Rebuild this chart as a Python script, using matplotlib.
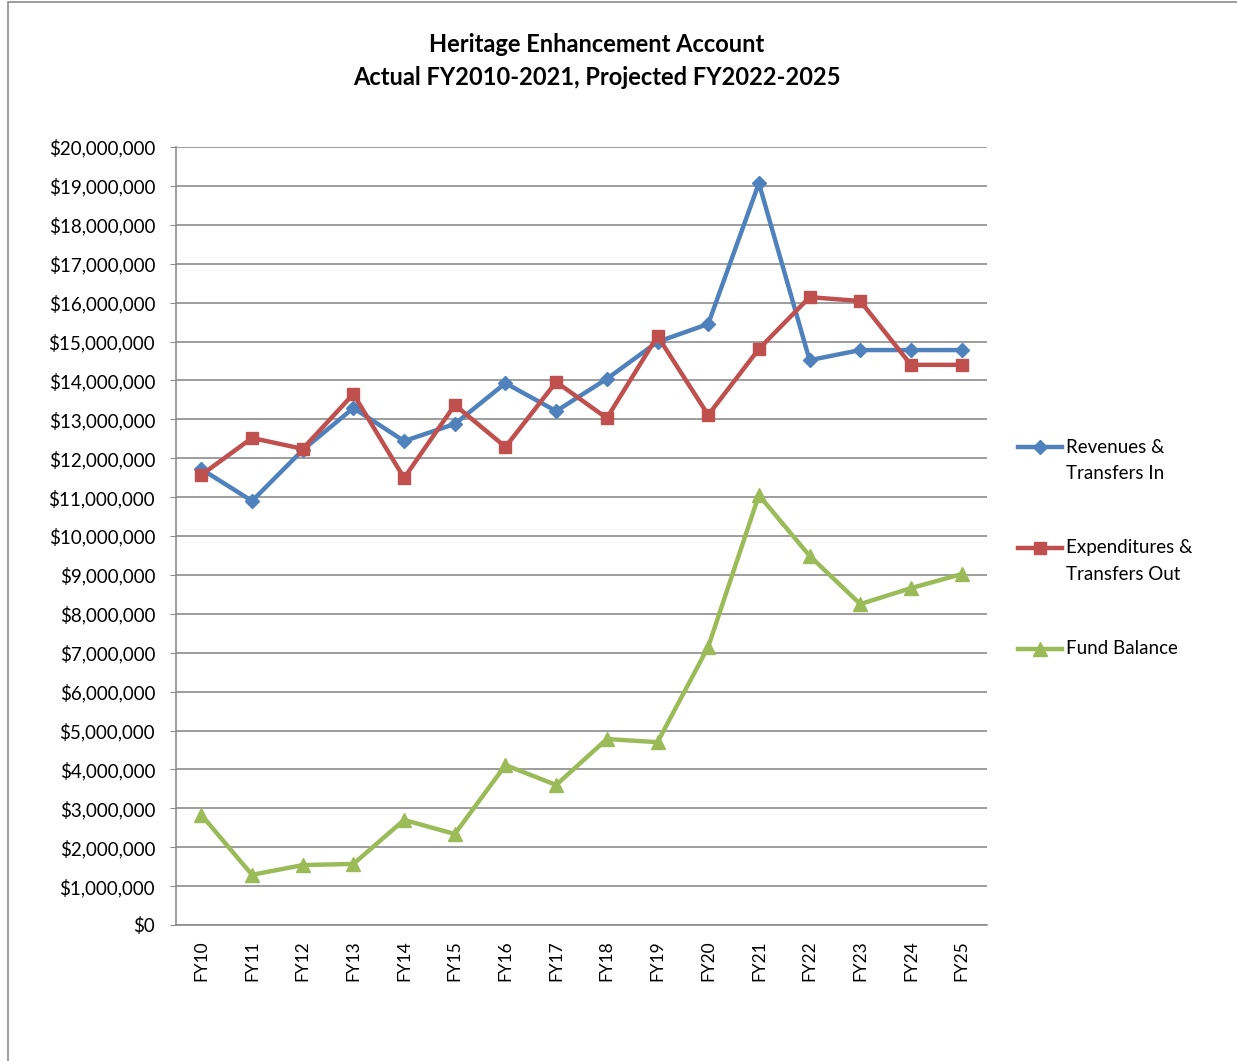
import matplotlib
matplotlib.use("Agg")
import matplotlib.pyplot as plt
from matplotlib.patches import Rectangle
from matplotlib.lines import Line2D
from matplotlib.ticker import FuncFormatter, MultipleLocator

categories = ["FY10", "FY11", "FY12", "FY13", "FY14", "FY15", "FY16", "FY17",
              "FY18", "FY19", "FY20", "FY21", "FY22", "FY23", "FY24", "FY25"]
revenues = [11.72, 10.90, 12.21, 13.29, 12.44, 12.88, 13.93, 13.21,
            14.04, 14.99, 15.45, 19.07, 14.52, 14.78, 14.78, 14.78]
expenditures = [11.57, 12.52, 12.24, 13.65, 11.49, 13.37, 12.29, 13.96,
                13.03, 15.14, 13.11, 14.81, 16.14, 16.04, 14.40, 14.40]
fund_balance = [2.83, 1.29, 1.54, 1.57, 2.70, 2.34, 4.11, 3.60,
                4.78, 4.70, 7.15, 11.05, 9.49, 8.25, 8.66, 9.02]
series_names = [["Revenues &", "Transfers In"],
                ["Expenditures &", "Transfers Out"],
                ["Fund Balance"]]
revenues = [v * 1e6 for v in revenues]
expenditures = [v * 1e6 for v in expenditures]
fund_balance = [v * 1e6 for v in fund_balance]

plt.rcParams['font.family'] = ['Lato', 'DejaVu Sans']

W, H = 1237, 1061
fig = plt.figure(figsize=(W / 100, H / 100), dpi=100)
fig.patches.append(Rectangle((8 / W, -0.01), (W - 8) / W + 0.01, (H - 2) / H + 0.01,
                             transform=fig.transFigure, fill=False,
                             edgecolor="#8c8c8c", linewidth=1.2))

ax = fig.add_axes([176 / W, 1 - 925 / H, (987 - 176) / W, (925 - 147) / H])
x = list(range(len(categories)))
lw = 3.2
styles = [dict(color="#4F81BD", marker="D", ms=7.5),
          dict(color="#C0504D", marker="s", ms=9),
          dict(color="#9BBB59", marker="^", ms=9.5)]
for data, st in zip([revenues, expenditures, fund_balance], styles):
    ax.plot(x, data, lw=lw, zorder=3, **st)

ax.set_xlim(-0.5, len(categories) - 0.5)
ax.set_ylim(0, 20e6)
ax.yaxis.set_major_locator(MultipleLocator(1e6))
ax.yaxis.set_major_formatter(FuncFormatter(lambda v, p: "$0" if v == 0 else f"${v:,.0f}"))
ax.set_xticks(x)
ax.set_xticklabels(categories, rotation=90, fontsize=12.5)
ax.tick_params(axis="y", labelsize=13.5, length=4, color="#8c8c8c", pad=11)
ax.tick_params(axis="x", length=0, pad=11)
ax.grid(axis="y", color="#8c8c8c", linewidth=1.2)
ax.set_axisbelow(True)
for s in ["top", "right"]:
    ax.spines[s].set_visible(False)
for s in ["left", "bottom"]:
    ax.spines[s].set_color("#8c8c8c")
    ax.spines[s].set_linewidth(1.2)

fig.text(597 / W, 1 - 45 / H, "Heritage Enhancement Account", ha="center", va="center",
         fontsize=17, fontweight="bold")
fig.text(597 / W, 1 - 77 / H, "Actual FY2010-2021, Projected FY2022-2025", ha="center",
         va="center", fontsize=17, fontweight="bold")

# legend
leg_y = [447, 548, 649]
for yy, st, names in zip(leg_y, styles, series_names):
    fig.add_artist(Line2D([1018 / W, 1040 / W, 1062 / W], [1 - yy / H] * 3,
                          transform=fig.transFigure, lw=lw, markevery=[1], **st))
    for i, nm in enumerate(names):
        fig.text(1066 / W, 1 - (yy + 27 * i) / H, nm, ha="left", va="center",
                 fontsize=13.5)

fig.savefig("out.png", dpi=100)
